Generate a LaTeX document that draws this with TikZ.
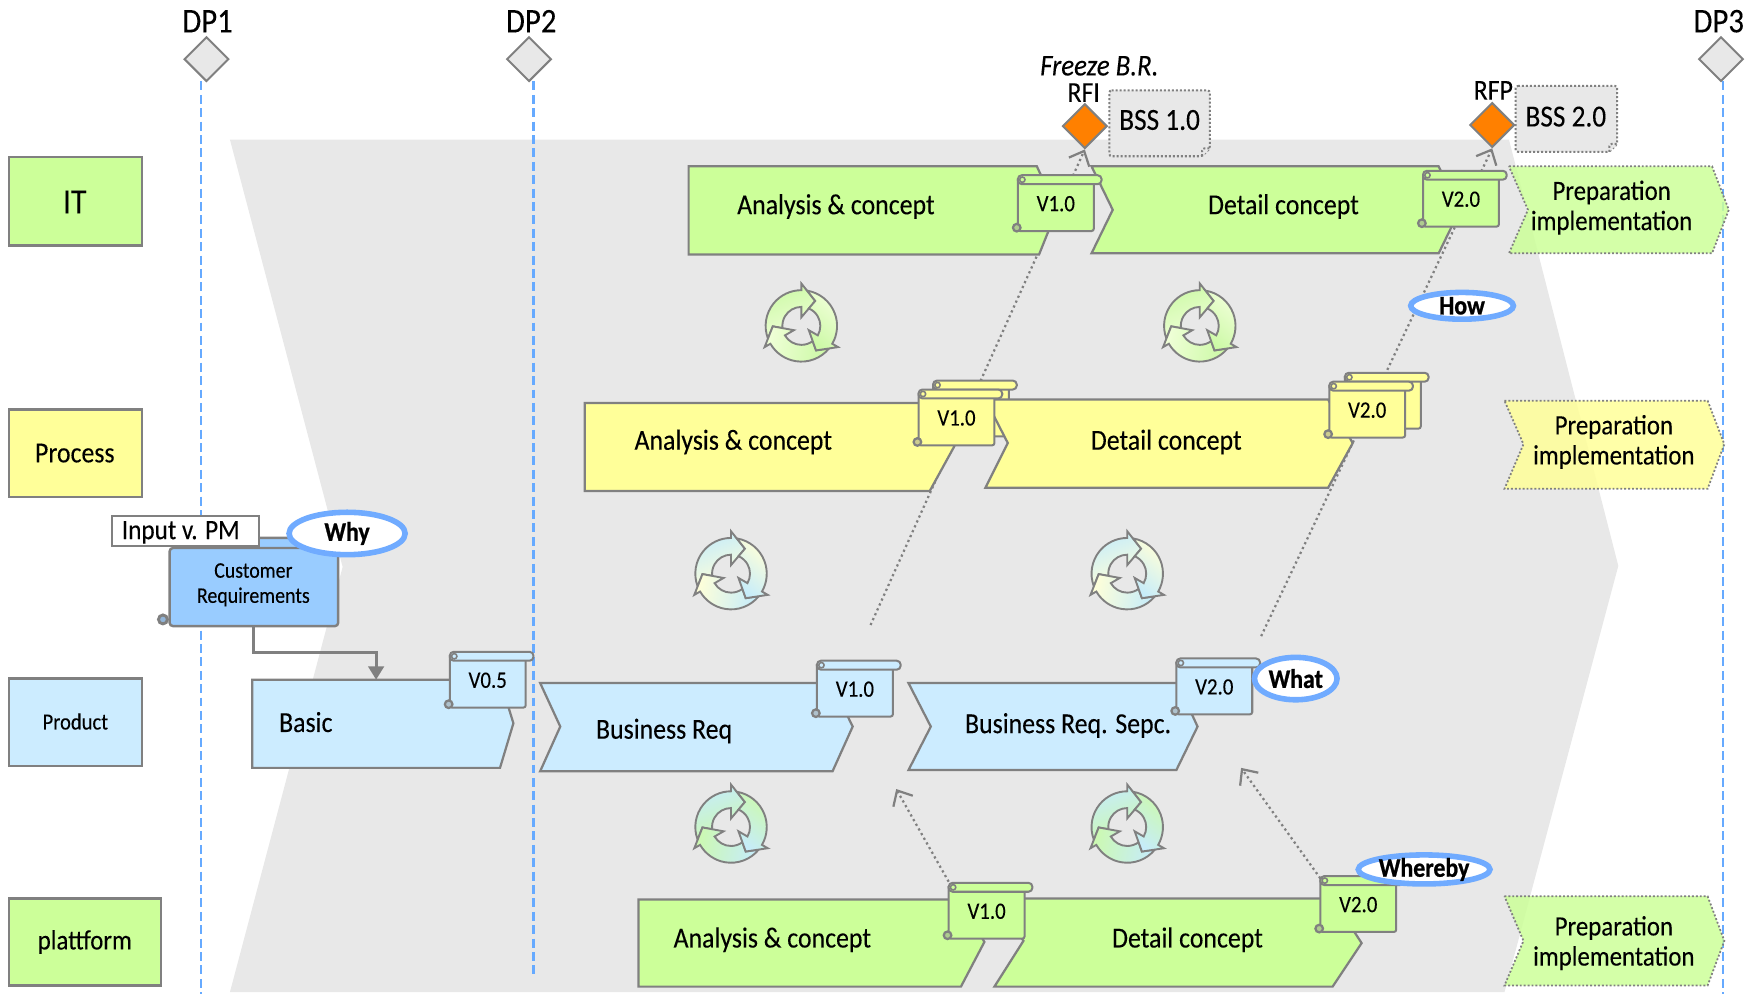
\documentclass[tikz,border=0pt]{standalone}
\usepackage{fontspec}
\setmainfont[FakeStretch=0.89,UprightFeatures={FakeBold=0.15},ItalicFeatures={FakeBold=0.15},BoldFeatures={FakeBold=0.8}]{Carlito}
\usetikzlibrary{arrows.meta,shapes.geometric}
\definecolor{lineg}{HTML}{808080}
\definecolor{bgg}{HTML}{E8E8E8}
\definecolor{dashb}{HTML}{66AAFF}
\definecolor{ringb}{HTML}{70ABFF}
\definecolor{cgreen}{HTML}{CCFF99}
\definecolor{cyellow}{HTML}{FFFF99}
\definecolor{cblue}{HTML}{CCECFF}
\definecolor{cdeep}{HTML}{99CCFF}
\definecolor{corange}{HTML}{FF8000}
\definecolor{icA}{HTML}{F0FFD8}
\definecolor{icB}{HTML}{CCF9A6}
\definecolor{icC}{HTML}{FFFFD8}
\definecolor{icD}{HTML}{C6ECFA}
\definecolor{icE}{HTML}{CCF9B0}
\tikzset{
  flowshape/.style={draw=lineg,line width=2pt,line join=miter},
  prepshape/.style={draw=lineg,line width=1.6pt,dash pattern=on 1.7pt off 1.8pt,fill opacity=.85},
  flowtext/.style={font=\fontsize{26}{28}\selectfont,inner sep=0pt,align=center},
  preptext/.style={font=\fontsize{25}{27}\selectfont,inner sep=0pt,align=center},
  notetext/.style={font=\fontsize{21}{24}\selectfont,inner sep=0pt},
  noteline/.style={draw=lineg,line width=1.8pt},
  dpline/.style={draw=dashb,line width=2pt,dash pattern=on 8pt off 4pt},
  dpdiamond/.style={diamond,aspect=1,draw=lineg,fill=bgg,line width=1.8pt,minimum size=40pt,inner sep=0pt},
  milestone/.style={diamond,aspect=1,draw=lineg,fill=corange,line width=1.8pt,minimum size=40pt,inner sep=0pt},
  dplabel/.style={font=\fontsize{31}{33}\selectfont,inner sep=0pt},
  dotarrow/.style={draw=lineg,line width=2pt,dash pattern=on 2pt off 2.8pt,-{Straight Barb[length=11pt,width=20pt,line width=2pt]}},
  ringnode/.style={ellipse,draw=ringb,fill=white,line width=5pt,inner sep=-8pt,font=\bfseries\fontsize{24}{26}\selectfont},
  bssnote/.style={draw=lineg,fill=bgg,line width=1.8pt,dash pattern=on 1.8pt off 1.8pt,rounded corners=2pt}
}
\newcommand{\vnote}[5]{%
  \draw[noteline,fill=#1,rounded corners=2pt] (#3,#4+3) -- (#3,#4+50) -- (#3+68,#4+50) -- (#3+68,#4+3);
  \draw[noteline,fill=#1!60!lineg,line width=2pt] (#3-1,#4+47) circle (3.4);
  \draw[noteline,fill=#1,rounded corners=3.5pt] (#3,#4) rectangle (#3+75,#4+8);
  \draw[noteline,fill=#1,line width=1.4pt] (#3+4,#4+4) circle (2.4);
  \node[notetext] (#2) at (#3+34,#4+25.5) {#5};
}
\newcommand{\backnote}[3]{%
  \draw[noteline,fill=#1,rounded corners=2pt] (#2,#3+3) -- (#2,#3+50) -- (#2+68,#3+50) -- (#2+68,#3+3);
  \draw[noteline,fill=#1,rounded corners=3.5pt] (#2,#3) rectangle (#2+75,#3+8);
  \draw[noteline,fill=#1,line width=1.4pt] (#2+4,#3+4) circle (2.4);
}
\newcommand{\recyc}[4]{%
  \foreach \rr/\ang in {0/200,120/80,240/320}{
    \begin{scope}[shift={(#1,#2)},rotate=\rr,y=1pt]
      \path[draw=lineg,line width=1.7pt,line join=miter,left color=#3,right color=#4,shading angle=\ang]
        (200.7:32pt) arc[start angle=200.7,end angle=90,radius=32pt]
        -- (90:38pt) -- (60.9:25.6pt) -- (90:7.7pt) -- (90:17pt)
        arc[start angle=90,end angle=186.8,radius=17pt]
        -- (180.9:25.6pt) -- cycle;
    \end{scope}
  }
}
\begin{document}
\begin{tikzpicture}[x=1pt,y=-1pt]
\useasboundingbox (0,0) rectangle (1568,891);
\fill[bgg] (206,125) -- (1352,125) -- (1450,507) -- (1348,889) -- (206,889) -- (307,508) -- cycle;
\node[dpdiamond] (dp1) at (185,53) {};
\node[dpdiamond] (dp2) at (474,53) {};
\node[dpdiamond] (dp3) at (1542,53) {};
\coordinate (dp1end) at (180,891);
\coordinate (dp2end) at (478,876);
\coordinate (dp3end) at (1544,891);
\draw[dpline] (180,73) -- (dp1end);
\draw[dpline] (478,73) -- (dp2end);
\draw[dpline] (1544,73) -- (dp3end);
\node[dplabel] (dp1t) at (186,19) {DP1};
\node[dplabel] (dp2t) at (476,19) {DP2};
\node[dplabel] (dp3t) at (1540,19) {DP3};
\node[milestone] (rfi) at (972,113) {};
\node[milestone] (rfp) at (1337,112) {};
\node[font=\itshape\fontsize{27}{28}\selectfont,inner sep=0pt] (freeze) at (985,59) {Freeze B.R.};
\node[font=\fontsize{26}{28}\selectfont,inner sep=0pt] (rfit) at (971,83) {RFI};
\node[font=\fontsize{26}{28}\selectfont,inner sep=0pt] (rfpt) at (1338,81) {RFP};
\draw[bssnote] (994,81) -- (1084,81) -- (1084,133) -- (1077,140) -- (994,140) -- cycle;
\draw[bssnote] (1077,140) -- (1077,133) -- (1084,133);
\node[font=\fontsize{27.5}{28}\selectfont,inner sep=0pt] (bss1) at (1039,107.5) {BSS 1.0};
\draw[bssnote] (1358,77) -- (1449,77) -- (1449,129) -- (1442,136) -- (1358,136) -- cycle;
\draw[bssnote] (1442,136) -- (1442,129) -- (1449,129);
\node[font=\fontsize{27.5}{28}\selectfont,inner sep=0pt] (bss2) at (1403,104.5) {BSS 2.0};
\coordinate (c1) at (780,560);
\coordinate (c2) at (1130,570);
\coordinate (c3s) at (850,790);
\coordinate (c3e) at (803,707);
\coordinate (c4s) at (1183,787);
\coordinate (c4e) at (1112,688);
\draw[dotarrow] (c1) -- (rfi.south);
\draw[dotarrow] (c2) -- (rfp.south);
\draw[dotarrow] (c3s) -- (c3e);
\draw[dotarrow] (c4s) -- (c4e);
\draw[flowshape,fill=cgreen] (8,141) rectangle (127,220);
\node[font=\fontsize{32}{34}\selectfont,inner sep=0pt] (rowit) at (67,181) {IT};
\draw[flowshape,fill=cyellow] (8,367) rectangle (127,445);
\node[flowtext] (rowproc) at (67,406) {Process};
\draw[flowshape,fill=cblue] (8,608) rectangle (127,686);
\node[font=\fontsize{20.7}{24}\selectfont,inner sep=0pt] (rowprod) at (67.5,646.5) {Product};
\draw[flowshape,fill=cgreen] (8,805) rectangle (144,883);
\node[font=\fontsize{25}{28}\selectfont,inner sep=0pt] (rowplat) at (76,844) {plattform};
\draw[flowshape,fill=cgreen] (617,149) -- (929,149) -- (947,188) -- (931,228) -- (617,228) -- cycle;
\node[flowtext] (it1) at (749,185) {Analysis \& concept};
\draw[flowshape,fill=cgreen] (978,149) -- (1289,149) -- (1308,188) -- (1289,227) -- (978,227) -- (997,188) -- cycle;
\node[flowtext] (it2) at (1150,185) {Detail concept};
\draw[prepshape,fill=cgreen] (1352,149) -- (1534,149) -- (1549,188) -- (1534,227) -- (1352,227) -- (1369,188) -- cycle;
\node[preptext] (it3) at (1444,186) {Preparation\\implementation};
\vnote{cgreen}{itv1}{912}{157}{V1.0}
\vnote{cgreen}{itv2}{1275}{153}{V2.0}
\draw[flowshape,fill=cyellow] (524,361) -- (833,361) -- (855,400) -- (833,440) -- (524,440) -- cycle;
\node[flowtext] (pr1) at (657,396) {Analysis \& concept};
\backnote{cyellow}{836}{341}
\backnote{cyellow}{1205}{334}
\draw[flowshape,fill=cyellow] (883,358) -- (1190,358) -- (1212,397) -- (1190,437) -- (883,437) -- (903,397) -- cycle;
\node[flowtext] (pr2) at (1045,396) {Detail concept};
\draw[prepshape,fill=cyellow] (1348,359) -- (1530,359) -- (1545,398) -- (1530,438) -- (1348,438) -- (1365,398) -- cycle;
\node[preptext] (pr3) at (1446,396) {Preparation\\implementation};
\vnote{cyellow}{prv1}{823}{349}{V1.0}
\vnote{cyellow}{prv2}{1191}{342}{V2.0}
\draw[flowshape,fill=cblue] (226,609) -- (448,609) -- (460,648) -- (448,688) -- (226,688) -- cycle;
\node[flowtext] (pd1) at (274,647) {Basic};
\draw[flowshape,fill=cblue] (484,612) -- (745,612) -- (764,651) -- (746,691) -- (484,691) -- (502,651) -- cycle;
\node[flowtext] (pd2) at (595,655) {Business Req};
\draw[flowshape,fill=cblue] (814,612) -- (1055,612) -- (1073,651) -- (1054,690) -- (814,690) -- (834,651) -- cycle;
\node[flowtext] (pd3) at (957,650) {Business Req. Sepc.};
\vnote{cblue}{pdv0}{403}{584}{V0.5}
\vnote{cblue}{pdv1}{732}{592}{V1.0}
\vnote{cblue}{pdv2}{1054}{590}{V2.0}
\draw[flowshape,fill=cgreen] (572,806) -- (861,806) -- (882,844) -- (861,884) -- (572,884) -- cycle;
\node[flowtext] (pl1) at (692,842) {Analysis \& concept};
\draw[flowshape,fill=cgreen] (891,805) -- (1194,805) -- (1220,845) -- (1194,884) -- (891,884) -- (917,843) -- cycle;
\node[flowtext] (pl2) at (1064,842) {Detail concept};
\draw[prepshape,fill=cgreen] (1348,803) -- (1530,803) -- (1545,843) -- (1530,883) -- (1348,883) -- (1365,843) -- cycle;
\node[preptext] (pl3) at (1446,845) {Preparation\\implementation};
\vnote{cgreen}{plv1}{850}{791}{V1.0}
\vnote{cgreen}{plv2}{1183}{785}{V2.0}
\draw[noteline,fill=cdeep,line width=2.2pt,rounded corners=3pt] (170,482) rectangle (300,492);
\draw[noteline,fill=cdeep,line width=2.2pt,rounded corners=3pt] (152,491) -- (152,561) -- (303,561) -- (303,491) -- cycle;
\draw[noteline,fill=cdeep!70!lineg,line width=2.6pt] (146,555) circle (4);
\node[font=\fontsize{20}{22.5}\selectfont,inner sep=0pt,align=center] (cr) at (227,524) {Customer\\Requirements};
\coordinate (crb) at (227,561);
\coordinate (bastop) at (337,609);
\draw[draw=lineg,line width=2.6pt,-{Triangle[length=12pt,width=14pt]}] (crb) |- (337,585) -- (bastop);
\node[draw=lineg,fill=white,line width=1.8pt,minimum width=132pt,minimum height=27pt,inner sep=0pt] (input) at (166,476) {};
\node[font=\fontsize{25.3}{26}\selectfont,inner sep=0pt] (inputt) at (162,477) {Input v. PM};
\node[ringnode,minimum width=104pt,minimum height=38pt] (why) at (311,478) {Why};
\node[ringnode,minimum width=92pt,minimum height=24pt] (how) at (1310,274) {How};
\node[ringnode,minimum width=74pt,minimum height=38pt] (what) at (1161,608) {What};
\node[ringnode,minimum width=118pt,minimum height=26pt] (whereby) at (1276,779) {Whereby};
\recyc{718}{292}{icA}{icB}
\recyc{1075}{292}{icA}{icB}
\recyc{655}{514}{icC}{icD}
\recyc{1010}{514}{icC}{icD}
\recyc{655}{741}{icE}{icD}
\recyc{1010}{741}{icE}{icD}
\end{tikzpicture}
\end{document}
